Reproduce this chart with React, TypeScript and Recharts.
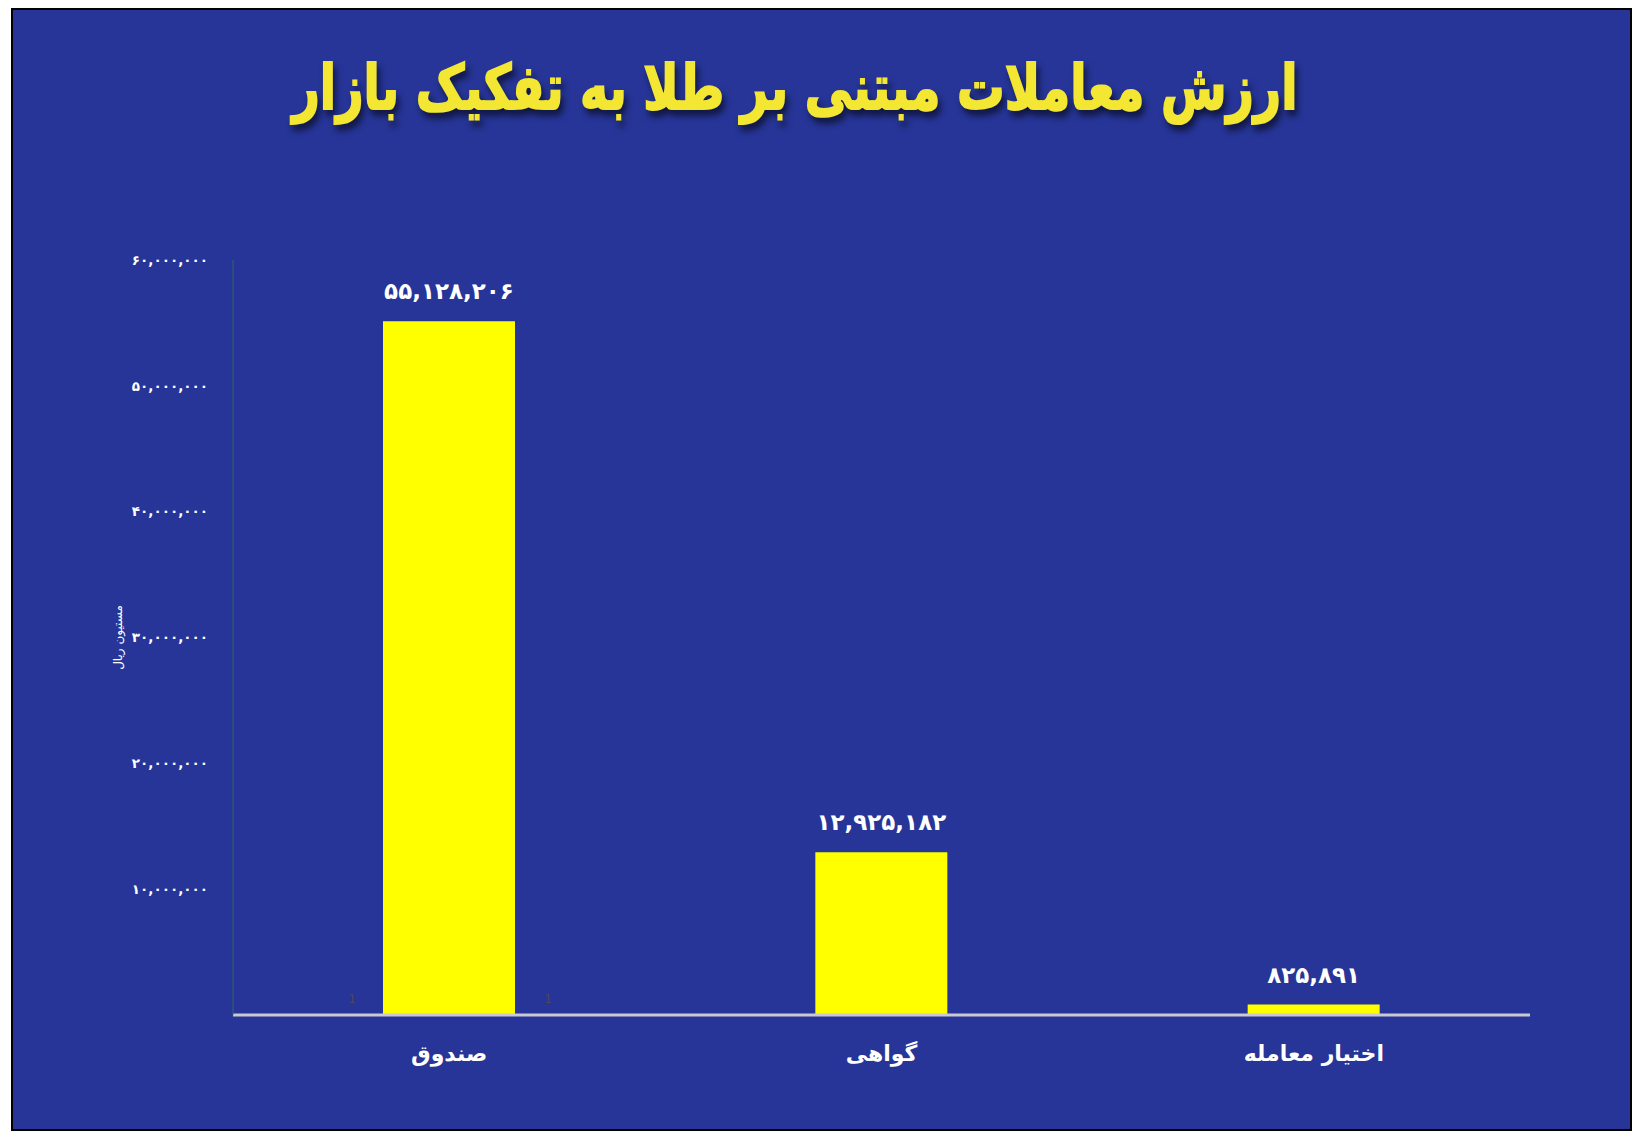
import React from 'react';
import { BarChart, Bar, XAxis, YAxis, LabelList } from 'recharts';

const categories = ['صندوق', 'گواهی', 'اختیار معامله'];
const values = [55128206, 12925182, 825891];
const yTicks = [10000000, 20000000, 30000000, 40000000, 50000000, 60000000];
const title = 'ارزش معاملات مبتنی بر طلا به تفکیک بازار';
const yTitle = 'مستیون ریال';

const data = categories.map((c, i) => ({ name: c, value: values[i] }));

const FA = '۰۱۲۳۴۵۶۷۸۹';
const fa = (n: number) => n.toLocaleString('en-US').replace(/\d/g, (d) => FA[+d]);

const W = 1642;
const H = 1137;
const BG = '#263597';
const FONT = '"DejaVu Sans", sans-serif';

export default function App() {
  return (
    <div style={{ position: 'absolute', left: 0, top: 0, width: W, height: H, background: '#fff', overflow: 'hidden' }}>
      <div
        style={{
          position: 'absolute',
          left: 11,
          top: 8,
          width: 1617,
          height: 1119,
          background: BG,
          border: '2px solid #000',
        }}
      />
      <div style={{ position: 'absolute', left: 0, top: 0 }}>
        <BarChart
          width={W}
          height={H}
          data={data}
          margin={{ top: 260, right: 112, bottom: 92, left: 0 }}
          barCategoryGap={0}
        >
          <XAxis
            dataKey="name"
            height={30}
            axisLine={{ stroke: '#c9c9cf', strokeWidth: 3 }}
            tickLine={false}
            tickSize={0}
            tickMargin={30}
            interval={0}
            tick={{ fill: '#ffffff', fontSize: 22, fontWeight: 700, fontFamily: FONT }}
          />
          <YAxis
            width={233}
            domain={[0, 60000000]}
            ticks={yTicks}
            tickFormatter={fa}
            axisLine={{ stroke: '#2f6a66', strokeWidth: 1 }}
            tickLine={false}
            tickSize={0}
            tickMargin={25}
            tick={{ fill: '#ffffff', fontSize: 13.5, fontWeight: 700, fontFamily: FONT }}
            label={{
              value: yTitle,
              angle: -90,
              position: 'insideLeft',
              offset: 118,
              style: { fill: '#ffffff', fontSize: 12, fontFamily: FONT, textAnchor: 'middle' },
            }}
          />
          <Bar dataKey="value" fill="#ffff00" barSize={132} isAnimationActive={false}>
            <LabelList
              dataKey="value"
              position="top"
              offset={22}
              formatter={(v: number) => fa(v)}
              style={{ fill: '#ffffff', fontSize: 23, fontWeight: 700, fontFamily: FONT }}
            />
          </Bar>
        </BarChart>
      </div>
      <svg width={W} height={H} style={{ position: 'absolute', left: 0, top: 0, pointerEvents: 'none' }}>
        <text
          x={795}
          y={87}
          textAnchor="middle"
          dominantBaseline="central"
          fontFamily={FONT}
          fontWeight={700}
          fontSize={62}
          fill="#f3e733"
          stroke="#f3e733"
          strokeWidth={2}
          textLength={1005}
          lengthAdjust="spacingAndGlyphs"
          style={{ filter: 'drop-shadow(3px 6px 3px rgba(0,0,0,0.55))' }}
        >
          {title}
        </text>
        <text x={352} y={1003} textAnchor="middle" fontFamily={FONT} fontSize={12} fill="#4a4a5a">1</text>
        <text x={548} y={1003} textAnchor="middle" fontFamily={FONT} fontSize={12} fill="#4a4a5a">1</text>
      </svg>
    </div>
  );
}
